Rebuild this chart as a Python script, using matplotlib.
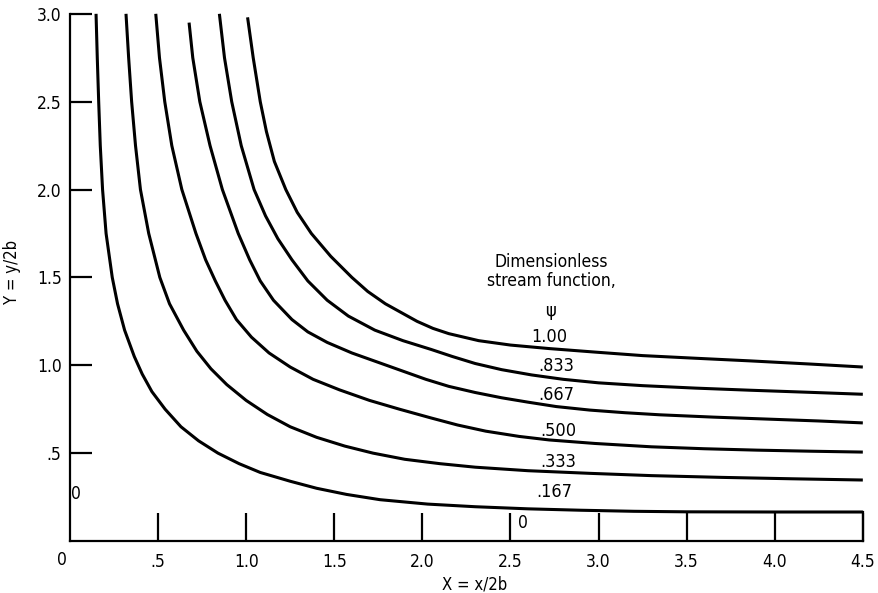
import matplotlib
matplotlib.use("Agg")
import matplotlib.pyplot as plt

plt.rcParams['font.family'] = ['DejaVu Sans']
plt.rcParams['font.stretch'] = 'condensed'

# streamlines, X = x/2b, Y = y/2b
x167 = [0.148, 0.155, 0.163, 0.172, 0.185, 0.205, 0.24, 0.27, 0.31, 0.365, 0.41, 0.465, 0.54,
        0.63, 0.73, 0.84, 0.96, 1.08, 1.25, 1.40, 1.57, 1.76, 2.03, 2.30, 2.6, 2.9, 3.2, 3.5,
        4.0, 4.5]
y167 = [3.0, 2.75, 2.5, 2.25, 2.0, 1.75, 1.5, 1.35, 1.2, 1.05, 0.95, 0.85, 0.75,
        0.65, 0.57, 0.50, 0.44, 0.39, 0.34, 0.30, 0.265, 0.235, 0.21, 0.195, 0.183, 0.175,
        0.169, 0.166, 0.165, 0.165]

x333 = [0.318, 0.333, 0.35, 0.372, 0.40, 0.447, 0.51, 0.565, 0.645, 0.72, 0.80, 0.89, 1.0,
        1.12, 1.25, 1.40, 1.56, 1.72, 1.90, 2.1, 2.3, 2.6, 2.95, 3.3, 3.7, 4.1, 4.5]
y333 = [3.0, 2.75, 2.5, 2.25, 2.0, 1.75, 1.5, 1.35, 1.2, 1.08, 0.98, 0.89, 0.80,
        0.72, 0.65, 0.59, 0.54, 0.50, 0.465, 0.44, 0.42, 0.40, 0.385, 0.372, 0.362, 0.354, 0.347]

x500 = [0.487, 0.508, 0.538, 0.578, 0.635, 0.715, 0.77, 0.825, 0.88, 0.945, 1.03, 1.13, 1.25,
        1.38, 1.53, 1.70, 1.87, 2.05, 2.20, 2.36, 2.55, 2.72, 2.98, 3.3, 3.6, 3.9, 4.2, 4.5]
y500 = [3.0, 2.75, 2.5, 2.25, 2.0, 1.75, 1.6, 1.48, 1.37, 1.26, 1.16, 1.07, 0.99,
        0.92, 0.86, 0.80, 0.75, 0.70, 0.66, 0.625, 0.595, 0.575, 0.555, 0.536, 0.525, 0.517,
        0.511, 0.506]

x667 = [0.676, 0.697, 0.737, 0.795, 0.865, 0.955, 1.02, 1.08, 1.155, 1.26, 1.35, 1.46, 1.60,
        1.74, 1.88, 2.02, 2.15, 2.30, 2.45, 2.60, 2.76, 2.95, 3.15, 3.35, 3.65, 3.95, 4.25, 4.5]
y667 = [2.95, 2.75, 2.5, 2.25, 2.0, 1.75, 1.6, 1.48, 1.37, 1.26, 1.19, 1.13, 1.07,
        1.02, 0.97, 0.92, 0.88, 0.845, 0.815, 0.79, 0.765, 0.745, 0.73, 0.718, 0.705, 0.694,
        0.683, 0.672]

x833 = [0.848, 0.877, 0.918, 0.972, 1.045, 1.11, 1.18, 1.26, 1.35, 1.46, 1.58, 1.73, 1.89,
        2.05, 2.17, 2.30, 2.45, 2.62, 2.80, 3.0, 3.25, 3.55, 3.86, 4.2, 4.5]
y833 = [3.0, 2.75, 2.5, 2.25, 2.0, 1.85, 1.72, 1.6, 1.48, 1.37, 1.28, 1.2, 1.14,
        1.09, 1.05, 1.01, 0.975, 0.945, 0.92, 0.90, 0.884, 0.87, 0.858, 0.846, 0.835]

x100 = [1.008, 1.04, 1.08, 1.115, 1.16, 1.225, 1.29, 1.37, 1.48, 1.60, 1.69, 1.79, 1.88,
        1.97, 2.06, 2.15, 2.32, 2.50, 2.72, 2.98, 3.25, 3.55, 3.86, 4.2, 4.5]
y100 = [2.98, 2.75, 2.5, 2.33, 2.16, 2.0, 1.87, 1.75, 1.62, 1.5, 1.42, 1.35, 1.30,
        1.25, 1.21, 1.18, 1.14, 1.115, 1.095, 1.075, 1.055, 1.04, 1.025, 1.007, 0.99]

curves = [(x167, y167), (x333, y333), (x500, y500), (x667, y667), (x833, y833), (x100, y100)]

psi_labels = ['.167', '.333', '.500', '.667', '.833', '1.00']
label_x = [2.75, 2.77, 2.77, 2.76, 2.76, 2.72]
label_y = [0.28, 0.45, 0.625, 0.83, 0.995, 1.16]

xticks = [0.5, 1.0, 1.5, 2.0, 2.5, 3.0, 3.5, 4.0, 4.5]
xticklabels = ['.5', '1.0', '1.5', '2.0', '2.5', '3.0', '3.5', '4.0', '4.5']
yticks = [0.5, 1.0, 1.5, 2.0, 2.5, 3.0]
yticklabels = ['.5', '1.0', '1.5', '2.0', '2.5', '3.0']

fig = plt.figure(figsize=(8.79, 5.93), dpi=100)
ax = fig.add_axes([0.0796, 0.0877, 0.902, 0.889])

for cx, cy in curves:
    ax.plot(cx, cy, color='black', lw=2.2, solid_capstyle='butt', solid_joinstyle='round',
            clip_on=False)

# closing edge of the strip along the floor
ax.plot([x167[-1], x167[-1]], [0, y167[-1]], color='black', lw=1.6, clip_on=False)

for t, lx, ly in zip(psi_labels, label_x, label_y):
    ax.text(lx, ly, t, ha='center', va='center', fontsize=13)

ax.text(2.73, 1.585, 'Dimensionless', ha='center', va='center', fontsize=12.5)
ax.text(2.73, 1.48, 'stream function,', ha='center', va='center', fontsize=12.5)
ax.text(2.73, 1.31, '\u03c8', ha='center', va='center', fontsize=13)

# psi = 0 on the walls
ax.text(0.035, 0.27, '0', ha='center', va='center', fontsize=12.5)
ax.text(2.57, 0.10, '0', ha='center', va='center', fontsize=12.5)

ax.set_xlim(0, 4.5)
ax.set_ylim(0, 3.0)
ax.spines['top'].set_visible(False)
ax.spines['right'].set_visible(False)
ax.spines['left'].set_linewidth(1.6)
ax.spines['bottom'].set_linewidth(1.6)

ax.set_xticks(xticks)
ax.set_xticklabels(xticklabels)
ax.set_yticks(yticks)
ax.set_yticklabels(yticklabels)
ax.tick_params(axis='x', direction='in', length=20, width=1.6, pad=9, labelsize=12.5)
ax.tick_params(axis='y', direction='in', length=16, width=1.6, pad=6, labelsize=12.5)

ax.annotate('0', xy=(0, 0), xytext=(-6, -14), textcoords='offset points',
            ha='center', va='center', fontsize=12.5, annotation_clip=False)

ax.set_xlabel('X = x/2b', fontsize=12)
ax.xaxis.set_label_coords(0.51, -0.065)
ax.set_ylabel('Y = y/2b', fontsize=12)
ax.yaxis.set_label_coords(-0.062, 0.51)

fig.savefig('out.png', dpi=100)
